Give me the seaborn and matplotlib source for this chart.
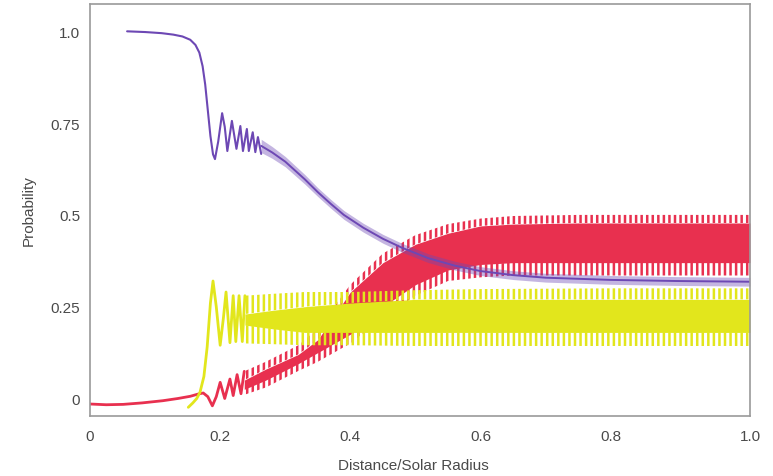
import matplotlib
matplotlib.use('Agg')
import pandas as pd
import matplotlib.pyplot as plt
import seaborn as sns

# ---- values ----
# purple curve: smooth fall, then a few visible wiggles
purple_x = [0.057, 0.085, 0.110, 0.128, 0.142, 0.154, 0.162, 0.168, 0.173, 0.177,
            0.181, 0.185, 0.189, 0.192, 0.197, 0.203, 0.207, 0.211,
            0.218, 0.225, 0.231, 0.235, 0.241, 0.244, 0.250, 0.254, 0.258, 0.263]
purple_y = [1.0, 0.998, 0.995, 0.991, 0.986, 0.977, 0.963, 0.942, 0.905, 0.855,
            0.785, 0.715, 0.665, 0.652, 0.700, 0.777, 0.740, 0.674,
            0.756, 0.680, 0.742, 0.674, 0.734, 0.674, 0.725, 0.671, 0.712, 0.666]
# purple after the wiggles get too dense to read: centre and half width
purple_band_x = [0.263, 0.28, 0.30, 0.33, 0.35, 0.37, 0.39, 0.42, 0.45, 0.48, 0.52,
                 0.56, 0.60, 0.65, 0.70, 0.80, 0.90, 1.014]
purple_mid = [0.688, 0.670, 0.645, 0.597, 0.562, 0.530, 0.500, 0.465, 0.435, 0.410, 0.382,
              0.362, 0.347, 0.336, 0.329, 0.323, 0.320, 0.318]
purple_half = [0.018, 0.016, 0.014, 0.013, 0.012, 0.012, 0.012, 0.012, 0.012, 0.012, 0.012,
               0.012, 0.012, 0.012, 0.012, 0.012, 0.012, 0.012]

# red curve, readable part
red_x = [0.0, 0.025, 0.051, 0.080, 0.112, 0.135, 0.154, 0.166, 0.174, 0.181, 0.188,
         0.194, 0.200, 0.207, 0.215, 0.220, 0.226, 0.232, 0.237]
red_y = [-0.015, -0.017, -0.016, -0.012, -0.006, 0.0, 0.006, 0.012, 0.015, 0.005, -0.02,
         0.005, 0.044, 0.0, 0.053, 0.008, 0.065, 0.013, 0.074]
# red band: outer spikes and solid core
red_band_x = [0.237, 0.27, 0.32, 0.35, 0.40, 0.45, 0.50, 0.55, 0.60, 0.65, 0.75, 0.90, 1.014]
red_out_lo = [0.010, 0.030, 0.075, 0.100, 0.150, 0.220, 0.280, 0.320, 0.330, 0.335, 0.335, 0.335, 0.335]
red_in_lo = [0.025, 0.050, 0.095, 0.125, 0.175, 0.250, 0.310, 0.350, 0.365, 0.370, 0.370, 0.370, 0.370]
red_in_hi = [0.050, 0.080, 0.120, 0.160, 0.290, 0.370, 0.420, 0.450, 0.470, 0.475, 0.478, 0.478, 0.478]
red_out_hi = [0.074, 0.100, 0.145, 0.190, 0.310, 0.395, 0.445, 0.475, 0.490, 0.497, 0.500, 0.500, 0.500]

# yellow curve, readable part
yellow_x = [0.151, 0.158, 0.164, 0.169, 0.175, 0.180, 0.185, 0.189, 0.194, 0.200,
            0.205, 0.209, 0.215, 0.220, 0.224, 0.229, 0.234, 0.238]
yellow_y = [-0.024, -0.012, 0.0, 0.017, 0.06, 0.14, 0.26, 0.32, 0.25, 0.145,
            0.22, 0.29, 0.152, 0.28, 0.155, 0.28, 0.155, 0.28]
# yellow band
yellow_band_x = [0.238, 0.28, 0.33, 0.40, 0.50, 0.60, 0.80, 1.014]
yellow_out_lo = [0.150, 0.148, 0.145, 0.145, 0.143, 0.143, 0.143, 0.143]
yellow_in_lo = [0.200, 0.190, 0.180, 0.180, 0.180, 0.180, 0.180, 0.180]
yellow_in_hi = [0.230, 0.240, 0.250, 0.260, 0.270, 0.270, 0.270, 0.270]
yellow_out_hi = [0.280, 0.285, 0.290, 0.290, 0.295, 0.298, 0.300, 0.300]

x_ticks = [0, 0.2, 0.4, 0.6, 0.8, 1.014]
x_tick_labels = ['0', '0.2', '0.4', '0.6', '0.8', '1.0']
y_ticks = [0, 0.25, 0.5, 0.75, 1.0]
y_tick_labels = ['0', '0.25', '0.5', '0.75', '1.0']

PURPLE = '#6d48b4'
RED = '#e8304f'
YELLOW = '#e2e61c'
GREY = '#9a9a9a'


def draw_band(ax, x, out_lo, in_lo, in_hi, out_hi, color):
    # solid core, combed edges
    ax.fill_between(x, in_lo, in_hi, color=color, lw=0)
    ax.fill_between(x, in_hi, out_hi, facecolor='none', edgecolor=color, hatch='|||', lw=0)
    ax.fill_between(x, out_lo, in_lo, facecolor='none', edgecolor=color, hatch='|||', lw=0)


sns.set_style('white')
plt.rcParams['font.family'] = ['Liberation Sans', 'DejaVu Sans']
plt.rcParams['hatch.linewidth'] = 1.8

fig = plt.figure(figsize=(7.73, 4.77), dpi=100)
ax = fig.add_axes([90 / 773, 1 - 416.5 / 477, 660 / 773, 411.5 / 477])

# red
draw_band(ax, red_band_x, red_out_lo, red_in_lo, red_in_hi, red_out_hi, RED)
sns.lineplot(data=pd.DataFrame({'x': red_x, 'y': red_y}), x='x', y='y',
             color=RED, lw=2.0, estimator=None, sort=False, ax=ax)

# yellow
draw_band(ax, yellow_band_x, yellow_out_lo, yellow_in_lo, yellow_in_hi, yellow_out_hi, YELLOW)
sns.lineplot(data=pd.DataFrame({'x': yellow_x, 'y': yellow_y}), x='x', y='y',
             color=YELLOW, lw=2.0, estimator=None, sort=False, ax=ax)

# purple
p_lo = [m - h for m, h in zip(purple_mid, purple_half)]
p_hi = [m + h for m, h in zip(purple_mid, purple_half)]
ax.fill_between(purple_band_x, p_lo, p_hi, color=PURPLE, alpha=0.4, lw=0)
sns.lineplot(data=pd.DataFrame({'x': purple_x, 'y': purple_y}), x='x', y='y',
             color=PURPLE, lw=1.5, estimator=None, sort=False, ax=ax)
sns.lineplot(data=pd.DataFrame({'x': purple_band_x, 'y': purple_mid}), x='x', y='y',
             color=PURPLE, lw=1.4, estimator=None, sort=False, ax=ax)

ax.set_xlim(0, 1.014)
ax.set_ylim(-0.0463, 1.0744)
ax.set_xticks(x_ticks)
ax.set_xticklabels(x_tick_labels)
ax.set_yticks(y_ticks)
ax.set_yticklabels(y_tick_labels)

for side in ['left', 'right', 'top', 'bottom']:
    ax.spines[side].set_color(GREY)
    ax.spines[side].set_linewidth(1.2)
ax.tick_params(direction='in', length=11.5, width=1.2, color=GREY,
               labelcolor='#4a4a4a', labelsize=11)
ax.tick_params(axis='x', pad=9.5)
ax.tick_params(axis='y', pad=7)

ax.set_xlabel('Distance/Solar Radius', fontsize=11, color='#4a4a4a')
ax.set_ylabel('Probability', fontsize=11, color='#4a4a4a')
ax.xaxis.set_label_coords(0.49, -0.103)
ax.yaxis.set_label_coords(-0.082, 0.5)

fig.savefig('out.png', dpi=100)
